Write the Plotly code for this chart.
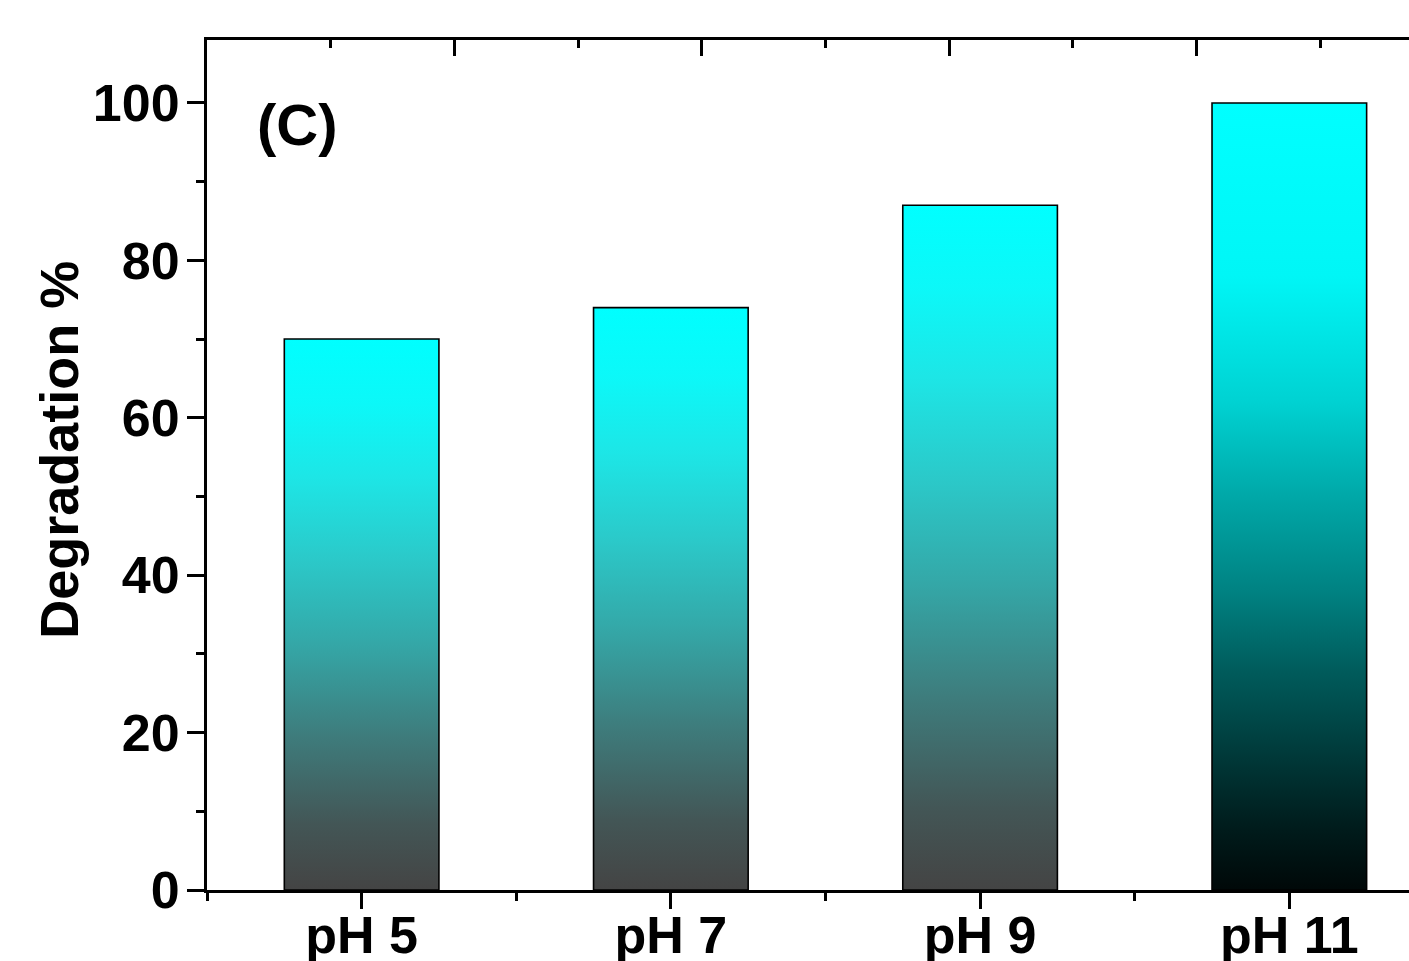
import plotly.graph_objects as go

# Degradation efficiency at each pH
categories = ["pH 5", "pH 7", "pH 9", "pH 11"]
degradation = [70, 74, 87, 100]

# Vertical fill gradients (bottom -> top)
grey_cyan = [
    [0.00, "#444444"], [0.12, "#435656"], [0.28, "#3e7c7c"],
    [0.45, "#34a8a8"], [0.60, "#2bc9c9"], [0.75, "#1de6e6"],
    [0.88, "#0cf8f8"], [1.00, "#00ffff"],
]
black_cyan = [
    [0.00, "#000808"], [0.08, "#001c1c"], [0.18, "#003c3c"],
    [0.28, "#005c5c"], [0.38, "#008282"], [0.50, "#00a8a8"],
    [0.62, "#00d2d2"], [0.78, "#00f6f6"], [1.00, "#00ffff"],
]
bar_scales = [grey_cyan, grey_cyan, grey_cyan, black_cyan]

BAR_W = 0.5
FONT = "Liberation Sans, Arial, sans-serif"

fig = go.Figure()
for i, (cat, val) in enumerate(zip(categories, degradation)):
    x0, x1 = i - BAR_W / 2, i + BAR_W / 2
    fig.add_trace(go.Scatter(
        x=[x0, x0, x1, x1, x0], y=[0, val, val, 0, 0],
        mode="lines", fill="toself",
        fillgradient=dict(type="vertical", colorscale=bar_scales[i], start=0, stop=val),
        line=dict(color="black", width=1.6),
        name=cat, hoverinfo="text", text=f"{cat}: {val}%",
        showlegend=False,
    ))

# helper trace so the top axis is rendered
fig.add_trace(go.Scatter(x=[0], y=[0], xaxis="x2", mode="none",
                         hoverinfo="skip", showlegend=False))

axis_font = dict(family=FONT, size=52, color="black", weight="bold")

fig.update_layout(
    width=1409, height=961,
    margin=dict(l=207, r=0, t=40, b=71),
    paper_bgcolor="white", plot_bgcolor="white",
    font=dict(family=FONT, color="black"),
    xaxis=dict(
        range=[-0.5, 3.387], tickmode="array", tickvals=list(range(len(categories))),
        ticktext=categories, ticks="outside", ticklen=16, tickwidth=3, tickcolor="black",
        showline=True, linewidth=3, linecolor="black", showgrid=False, zeroline=False,
        tickfont=axis_font, ticklabelstandoff=-18, automargin=False,
        minor=dict(tickmode="array", tickvals=[-0.5, 0.5, 1.5, 2.5], ticks="outside",
                   ticklen=8, tickwidth=3, tickcolor="black", showgrid=False),
    ),
    xaxis2=dict(
        overlaying="x", side="top", anchor="y", range=[0, 4.859],
        tickmode="linear", tick0=0, dtick=1, ticks="inside", ticklen=16, tickwidth=3,
        tickcolor="black", showticklabels=False, showline=True, linewidth=3,
        linecolor="black", showgrid=False, zeroline=False, automargin=False,
        minor=dict(tickmode="linear", tick0=0, dtick=0.5, ticks="inside", ticklen=8,
                   tickwidth=3, tickcolor="black", showgrid=False),
    ),
    yaxis=dict(
        range=[0, 108], tickmode="linear", tick0=0, dtick=20, ticks="outside",
        ticklen=17, tickwidth=3, tickcolor="black", showline=True, linewidth=3,
        linecolor="black", showgrid=False, zeroline=False, tickfont=axis_font,
        ticklabelstandoff=-3, automargin=False,
        minor=dict(tickmode="linear", tick0=0, dtick=10, ticks="outside", ticklen=8,
                   tickwidth=3, tickcolor="black", showgrid=False),
    ),
    annotations=[
        dict(text="(C)", xref="paper", yref="paper", x=0.04, y=0.90,
             xanchor="left", yanchor="middle", showarrow=False,
             font=dict(family=FONT, size=58, color="black", weight="bold")),
        # y-axis title
        dict(text="Degradation %", xref="paper", yref="paper", x=-0.123, y=0.518,
             xanchor="center", yanchor="middle", textangle=-90, showarrow=False,
             font=dict(family=FONT, size=54, color="black", weight="bold")),
    ],
)

fig.write_html("out.html")
